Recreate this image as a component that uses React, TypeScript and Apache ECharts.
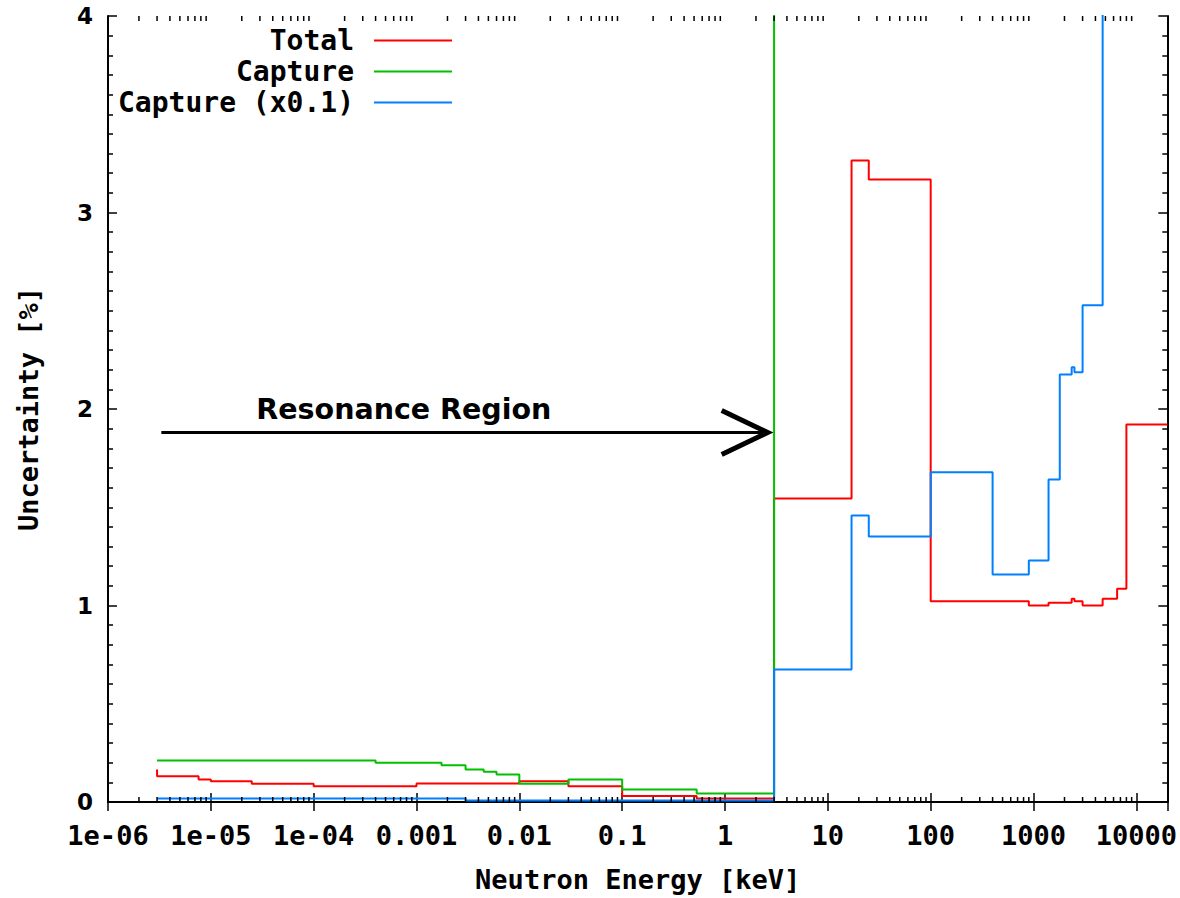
import React, { useEffect, useRef } from 'react';
import * as echarts from 'echarts';

// ---- axes ----
const X_MIN = 1e-6;
const X_MAX = 2e4;
const Y_MIN = 0;
const Y_MAX = 4;
const xTickValues = [1e-6, 1e-5, 1e-4, 1e-3, 1e-2, 1e-1, 1, 10, 100, 1000, 10000];
const xTickLabels = ['1e-06', '1e-05', '1e-04', '0.001', '0.01', '0.1', '1', '10', '100', '1000', '10000'];
const yTickLabels = ['0', '1', '2', '3', '4'];
const xAxisTitle = 'Neutron Energy [keV]';
const yAxisTitle = 'Uncertainty [%]';

// ---- series (left bin edge in keV, value in %) ----
const seriesNames = ['Total', 'Capture', 'Capture (x0.1)'];
const seriesColors = ['#ff0000', '#00c000', '#0080ff'];

const totalEnergy = [3e-6, 3e-6, 7.6e-6, 1e-5, 2.5e-5, 1e-4, 1e-3, 1e-2, 3e-2, 0.1, 0.53, 3, 17, 25, 100, 900, 1400, 2350, 2500, 3000, 4700, 6500, 8000, 2e4];
const totalValue = [0.165, 0.131, 0.115, 0.106, 0.093, 0.080, 0.094, 0.106, 0.080, 0.030, 0.018, 1.545, 3.265, 3.168, 1.022, 1.000, 1.014, 1.034, 1.022, 1.000, 1.034, 1.085, 1.921, 1.921];

const captureEnergy = [3e-6, 4e-4, 1.75e-3, 3e-3, 4.5e-3, 6e-3, 1e-2, 3e-2, 0.1, 0.53, 3, 17, 25, 100, 400, 900, 1400, 1800, 2350, 2500, 3000, 4700, 2e4];
const captureValue = [0.211, 0.200, 0.187, 0.165, 0.154, 0.140, 0.093, 0.115, 0.064, 0.043, 6.7, 14.6, 13.5, 16.8, 11.6, 12.3, 16.4, 21.8, 22.1, 21.9, 25.3, 60, 60];

const captureScaledEnergy = [3e-6, 3e-3, 3, 17, 25, 100, 400, 900, 1400, 1800, 2350, 2500, 3000, 4700, 2e4];
const captureScaledValue = [0.018, 0.008, 0.674, 1.458, 1.351, 1.678, 1.158, 1.229, 1.641, 2.176, 2.213, 2.187, 2.528, 6.0, 6.0];

// ---- annotation ----
const annotationText = 'Resonance Region';
const arrowFrom = [3.3e-6, 1.88];
const arrowTo = [2.6, 1.88];

const MONO = '"DejaVu Sans Mono", monospace';

function pairs(xs: number[], ys: number[]) {
  return xs.map((x, i) => [x, ys[i]]);
}

function minorTicks() {
  const out: number[][] = [];
  for (let d = -6; d <= 4; d++) {
    for (let m = 2; m <= 9; m++) {
      const v = m * Math.pow(10, d);
      if (v < X_MAX) out.push([v, 0]);
    }
  }
  return out;
}

function xLabel(v: number) {
  const i = xTickValues.findIndex((t) => Math.abs(Math.log10(v) - Math.log10(t)) < 1e-6);
  return i >= 0 ? xTickLabels[i] : '';
}

export default function App() {
  const ref = useRef<HTMLDivElement>(null);
  useEffect(() => {
    document.body.style.margin = '0';
    const chart = echarts.init(ref.current!, null, { renderer: 'svg' });
    const frame = { show: true, lineStyle: { color: '#000', width: 2 } };
    const xCommon: any = {
      type: 'log',
      logBase: 10,
      min: X_MIN,
      max: X_MAX,
      interval: 1,
      axisLine: frame,
      axisTick: { show: true, inside: true, length: 9, lineStyle: { color: '#000', width: 1.5 } },
      splitLine: { show: false },
    };
    const yCommon: any = {
      type: 'value',
      min: Y_MIN,
      max: Y_MAX,
      interval: 1,
      axisLine: frame,
      axisTick: { show: true, inside: true, length: 9, lineStyle: { color: '#000', width: 1.5 } },
      minorTick: { show: true, splitNumber: 10, length: 5, lineStyle: { color: '#000', width: 1.5 } },
      splitLine: { show: false },
    };
    const lineSeries = [
      pairs(totalEnergy, totalValue),
      pairs(captureEnergy, captureValue),
      pairs(captureScaledEnergy, captureScaledValue),
    ].map((data, i) => ({
      name: seriesNames[i],
      type: 'line',
      step: 'end',
      data,
      symbol: 'none',
      showSymbol: false,
      clip: true,
      color: seriesColors[i],
      lineStyle: { color: seriesColors[i], width: 2 },
      z: 3 + i,
    }));
    chart.setOption({
      animation: false,
      backgroundColor: '#fff',
      grid: { left: 108, right: 12, top: 16, bottom: 96 },
      legend: {
        data: seriesNames,
        orient: 'vertical',
        align: 'right',
        right: 728,
        top: 25,
        padding: 0,
        itemGap: 0,
        itemWidth: 78,
        itemHeight: 2,
        icon: 'rect',
        selectedMode: false,
        textStyle: {
          fontFamily: MONO,
          fontWeight: 'bold',
          fontSize: 28,
          color: '#000',
          lineHeight: 31,
          padding: [0, 15, 0, 0],
        },
      },
      xAxis: [
        {
          ...xCommon,
          position: 'bottom',
          name: xAxisTitle,
          nameLocation: 'middle',
          nameGap: 64,
          nameTextStyle: { fontFamily: MONO, fontWeight: 'bold', fontSize: 27, color: '#000' },
          axisLabel: {
            show: true,
            margin: 20,
            formatter: xLabel,
            fontFamily: MONO,
            fontWeight: 'bold',
            fontSize: 27,
            color: '#000',
            showMaxLabel: false,
          },
        },
        { ...xCommon, position: 'top', axisLabel: { show: false } },
      ],
      yAxis: [
        {
          ...yCommon,
          position: 'left',
          name: yAxisTitle,
          nameLocation: 'middle',
          nameGap: 66,
          nameRotate: 90,
          nameTextStyle: { fontFamily: MONO, fontWeight: 'bold', fontSize: 27, color: '#000' },
          axisLabel: {
            show: true,
            margin: 15,
            formatter: (v: number) => yTickLabels[Math.round(v)] ?? '',
            fontFamily: '"DejaVu Sans", sans-serif',
            fontWeight: 'bold',
            fontSize: 23,
            color: '#000',
          },
        },
        { ...yCommon, position: 'right', axisLabel: { show: false } },
      ],
      series: [
        ...lineSeries,
        {
          name: 'minorTicks',
          type: 'custom',
          silent: true,
          data: minorTicks(),
          z: 10,
          renderItem: (params: any, api: any) => {
            const p = api.coord([api.value(0), 0]);
            const cs = params.coordSys;
            const st = { stroke: '#000', lineWidth: 1.5 };
            return {
              type: 'group',
              children: [
                { type: 'line', shape: { x1: p[0], y1: cs.y + cs.height, x2: p[0], y2: cs.y + cs.height - 5 }, style: st },
                { type: 'line', shape: { x1: p[0], y1: cs.y, x2: p[0], y2: cs.y + 5 }, style: st },
              ],
            };
          },
        },
      ],
    });
    const p0 = chart.convertToPixel({ seriesIndex: 0 }, arrowFrom) as number[];
    const p1 = chart.convertToPixel({ seriesIndex: 0 }, arrowTo) as number[];
    chart.setOption({
      graphic: [
        { type: 'line', shape: { x1: p0[0], y1: p0[1], x2: p1[0], y2: p1[1] }, style: { stroke: '#000', lineWidth: 3 } },
        {
          type: 'polyline',
          shape: { points: [[p1[0] - 46, p1[1] - 22], [p1[0], p1[1]], [p1[0] - 46, p1[1] + 22]] },
          style: { stroke: '#000', lineWidth: 5, fill: null },
        },
        {
          type: 'text',
          x: p0[0] + 95,
          y: p0[1] - 23,
          style: {
            text: annotationText,
            font: 'bold 28.5px "DejaVu Sans", sans-serif',
            fill: '#000',
            verticalAlign: 'middle',
          },
        },
      ],
    });
    return () => chart.dispose();
  }, []);
  return <div ref={ref} style={{ width: 1180, height: 898 }} />;
}
